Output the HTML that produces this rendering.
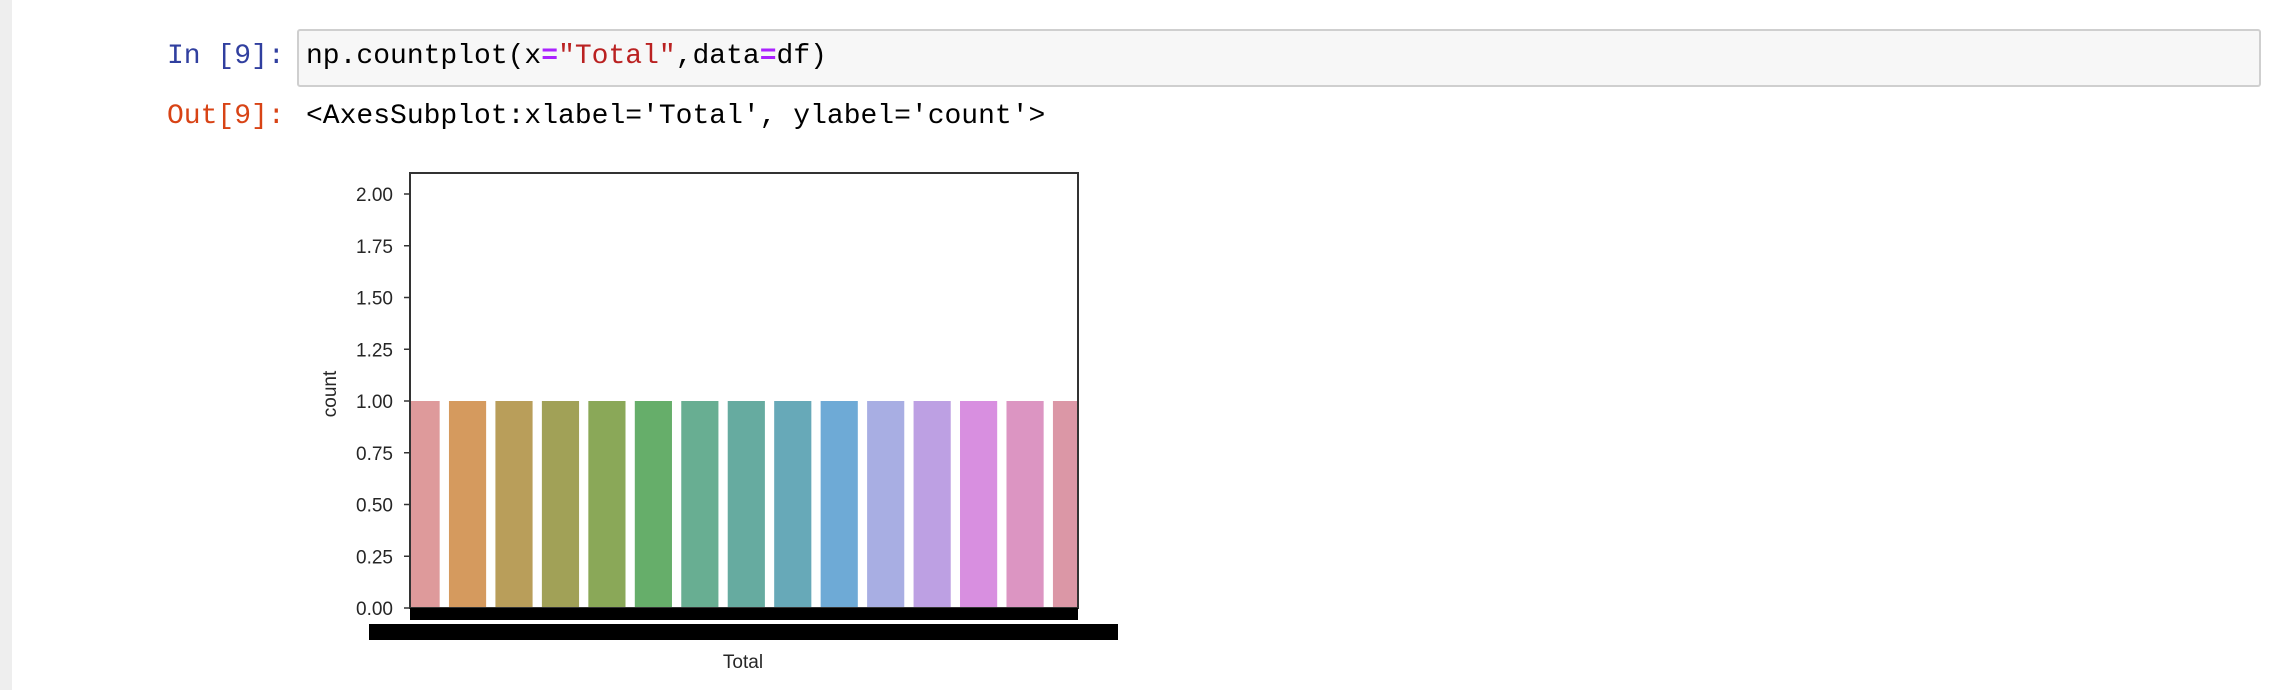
<!DOCTYPE html>
<html><head><meta charset="utf-8"><style>
body{margin:0;width:2288px;height:690px;background:#fff;position:relative;overflow:hidden;font-family:"Liberation Mono",monospace;}
.strip{position:absolute;left:0;top:0;width:12px;height:690px;background:#eeeeee;}
.prompt{position:absolute;font-size:28px;}
.code{position:absolute;left:297px;top:29px;width:1964px;height:58px;background:#f7f7f7;border:2px solid #cfcfcf;border-radius:3px;box-sizing:border-box;}
</style></head><body>
<div class="strip"></div>
<div class="prompt" style="left:167px;top:41px;color:#303f9f">In [9]:</div>
<div class="code"></div>
<div class="prompt" style="left:306px;top:41px;color:#000">np.countplot(x<span style="color:#aa22ff;font-weight:bold">=</span><span style="color:#ba2121">"Total"</span>,data<span style="color:#aa22ff;font-weight:bold">=</span>df)</div>
<div class="prompt" style="left:167px;top:101px;color:#d84315">Out[9]:</div>
<div class="prompt" style="left:306px;top:101px;color:#000">&lt;AxesSubplot:xlabel='Total', ylabel='count'&gt;</div>
<svg id="chart" width="2288" height="690" style="position:absolute;left:0;top:0"></svg>
<script>
const categories=["c1","c2","c3","c4","c5","c6","c7","c8","c9","c10","c11","c12","c13","c14","c15"];
const counts=[1,1,1,1,1,1,1,1,1,1,1,1,1,1,1];
const colors=["#de9a9b","#d59a5e","#b99e5a","#a1a157","#8aa858","#66ae6a","#68ae92","#66aba0","#67a9b8","#6eaad6","#a8aee3","#bda0e3","#d88fe0","#dc95c2","#db97a6"];
const yTicks=[0,0.25,0.5,0.75,1.0,1.25,1.5,1.75,2.0];
const yTickLabels=["0.00","0.25","0.50","0.75","1.00","1.25","1.50","1.75","2.00"];
const NS="http://www.w3.org/2000/svg";
const svg=document.getElementById('chart');
const L=410,R=1078,T=173,B=608;
const y=v=>608-v*(414/2);
const pitch=46.46, x0=402.5;
const xPos=i=>x0+i*pitch;
function mk(t,a){const e=document.createElementNS(NS,t);for(const k in a)e.setAttribute(k,a[k]);svg.appendChild(e);return e;}
const cp=mk('clipPath',{id:'cp'});svg.removeChild(cp);
const defs=mk('defs',{});defs.appendChild(cp);
const cr=document.createElementNS(NS,'rect');cr.setAttribute('x',L);cr.setAttribute('y',T);cr.setAttribute('width',R-L);cr.setAttribute('height',B-T);cp.appendChild(cr);
categories.forEach((c,i)=>{
  const r=mk('rect',{x:xPos(i),y:y(counts[i]),width:pitch*0.8,height:y(0)-y(counts[i]),fill:colors[i],'clip-path':'url(#cp)'});
  
  
});
const fr=mk('rect',{x:L,y:T,width:R-L,height:B-T,fill:'none',stroke:'#333',"stroke-width":2});


yTicks.forEach((v,i)=>{
  mk('line',{x1:L-6,x2:L,y1:y(v),y2:y(v),stroke:'#333','stroke-width':1.5});
  const t=mk('text',{x:L-17,y:y(v)+7,'text-anchor':'end','font-size':19,fill:'#262626','font-family':'Liberation Sans, sans-serif'});
  t.textContent=yTickLabels[i];
  
  
});
const xt=mk('rect',{x:L,y:608,width:R-L,height:12,fill:'#000'});


const xl=mk('rect',{x:369,y:624,width:749,height:16,fill:'#000'});


const xa=mk('text',{x:743,y:668,'text-anchor':'middle','font-size':19,fill:'#262626','font-family':'Liberation Sans, sans-serif'});
xa.textContent='Total';


const ya=mk('text',{x:0,y:0,'text-anchor':'middle','font-size':19,fill:'#262626','font-family':'Liberation Sans, sans-serif',transform:'translate(336,394) rotate(-90)'});
ya.textContent='count';


</script>
</body></html>
